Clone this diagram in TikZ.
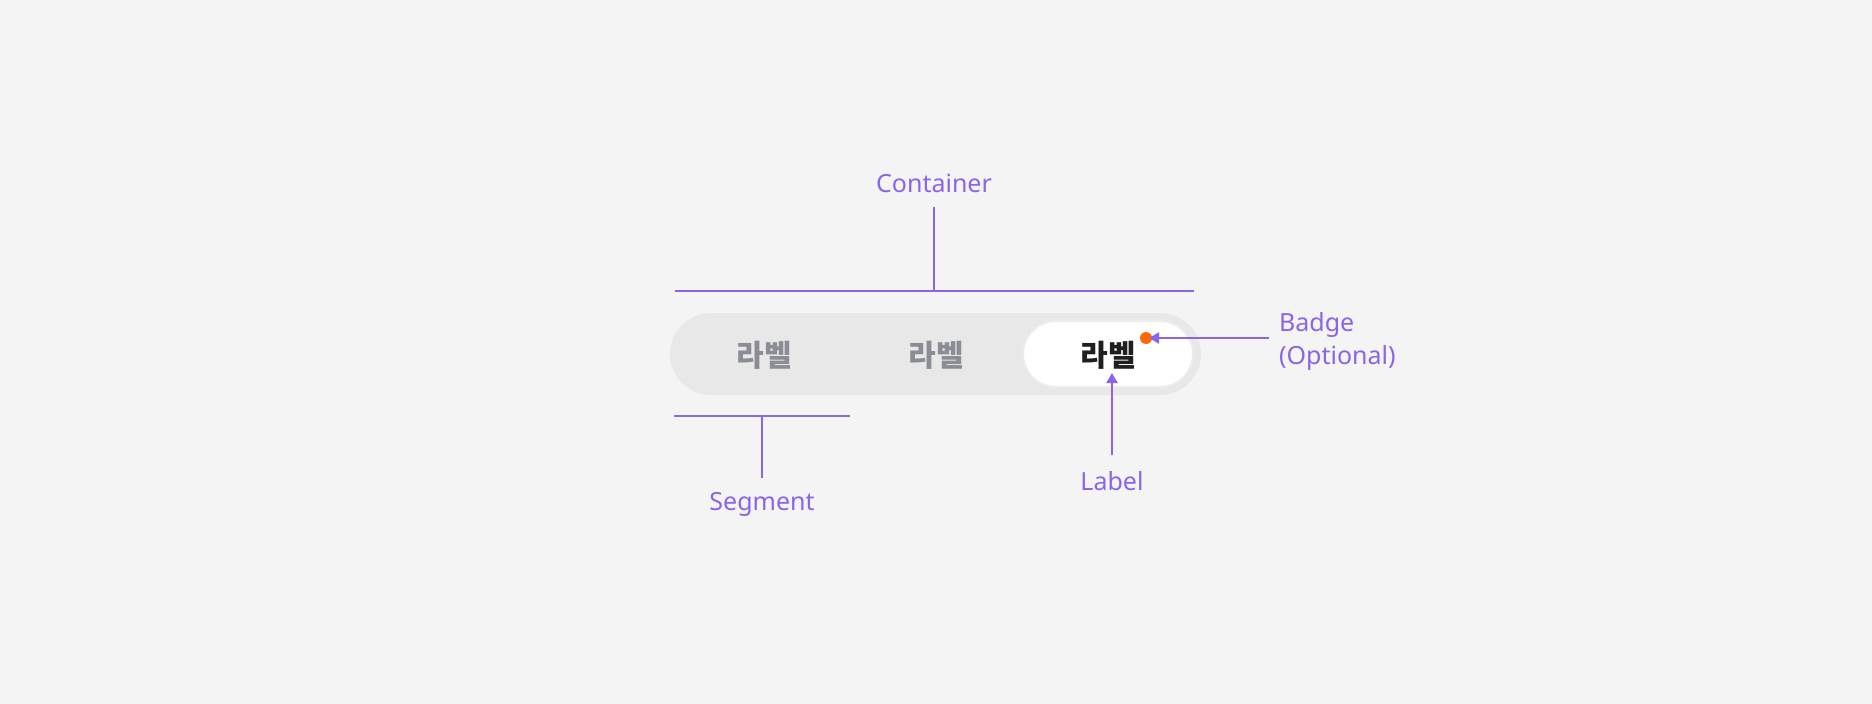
\documentclass[tikz,border=0pt]{standalone}
\usepackage{fontspec}
\setmainfont{Noto Sans}
\newfontfamily\krfont{Noto Sans CJK KR}
\usetikzlibrary{arrows.meta}
\definecolor{bgc}{HTML}{F4F4F4}
\definecolor{pillc}{HTML}{E8E8E8}
\definecolor{ringc}{HTML}{ECECEC}
\definecolor{purp}{HTML}{8A65E8}
\definecolor{greyt}{HTML}{8A8D93}
\definecolor{blackt}{HTML}{1F1F1F}
\definecolor{badgec}{HTML}{FF6A00}
\tikzset{
  annot/.style={font=\fontsize{25}{33}\selectfont, text=purp, inner sep=0pt},
  leader/.style={draw=purp, line width=2pt},
  pointer/.style={draw=purp, line width=2pt, -{Triangle[width=11pt,length=10pt]}},
  segtext/.style={font=\krfont\bfseries\fontsize{30}{32}\selectfont, inner sep=0pt},
}
\begin{document}
\begin{tikzpicture}[x=1pt,y=-1pt]
\useasboundingbox[fill=bgc] (0,0) rectangle (1872,704);
% container pill
\node[fill=pillc, rounded corners=41pt, minimum width=531pt, minimum height=82pt, inner sep=0pt] (pill) at (935.5,354) {};
% selected segment
\node[fill=white, draw=ringc, line width=2pt, rounded corners=33pt, minimum width=170pt, minimum height=66pt, inner sep=0pt] (sel) at (1108,354) {};
% labels
\node[segtext, text=greyt] (l1) at (764,355) {라벨};
\node[segtext, text=greyt] (l2) at (936,355) {라벨};
\node[segtext, text=blackt] (l3) at (1108,355) {라벨};
% badge
\node[circle, fill=badgec, minimum size=12pt, inner sep=0pt] (badge) at (1146,338) {};
% annotation texts
\node[annot, anchor=base] (tcont) at (934,192) {Container};
\node[annot, anchor=base] (tseg) at (762,510) {Segment};
\node[annot, anchor=base] (tlab) at (1112,490) {Label};
\node[annot, anchor=base west, align=left] (tbadge) at (1279,364) {Badge\\(Optional)};
% container bracket
\coordinate (cL) at (675,291);
\coordinate (cR) at (1194,291);
\coordinate (cM) at (934,291);
\coordinate (cT) at (934,207);
\draw[leader] (cL) -- (cR);
\draw[leader] (cM) -- (cT);
% segment bracket
\coordinate (sL) at (674,416);
\coordinate (sR) at (850,416);
\coordinate (sM) at (762,416);
\coordinate (sB) at (762,478);
\draw[leader] (sL) -- (sR);
\draw[leader] (sM) -- (sB);
% label pointer
\coordinate (lB) at (1112,455);
\coordinate (lT) at (1112,373);
\draw[pointer] (lB) -- (lT);
% badge pointer
\coordinate (bR) at (1269,338);
\coordinate (bL) at (1149,338);
\draw[pointer] (bR) -- (bL);
\end{tikzpicture}
\end{document}
